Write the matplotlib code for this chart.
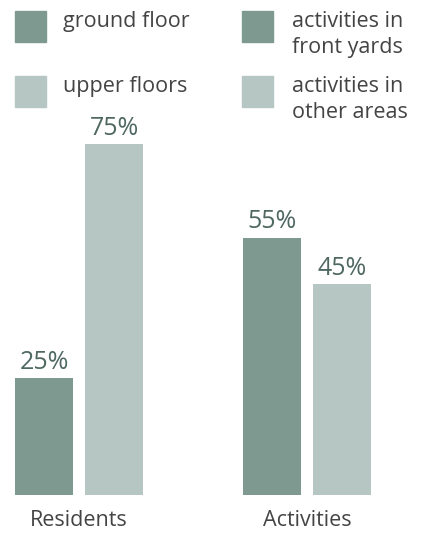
import numpy as np
import matplotlib.pyplot as plt
from matplotlib.patches import Rectangle

# data
groups = ['Residents', 'Activities']
first_share = [25, 55]    # ground floor / activities in front yards
second_share = [75, 45]   # upper floors / activities in other areas
legend_left = ['ground floor', 'upper floors']
legend_right = [['activities in', 'front yards'], ['activities in', 'other areas']]

dark = '#7d9990'
light = '#b6c6c3'
txt = '#444444'
pct = '#4f6862'
font = 'Open Sans'

W, H = 423, 533
fig = plt.figure(figsize=(W / 100, H / 100), dpi=100)
ax = fig.add_axes([0, 38 / H, 1, 495 / H])

x = np.arange(len(groups))
w = 58 / 228
off = 35 / 228
b1 = ax.bar(x - off, first_share, w, color=dark)
b2 = ax.bar(x + off, second_share, w, color=light)

for bars, vals in [(b1, first_share), (b2, second_share)]:
    for r, v in zip(bars, vals):
        ax.text(r.get_x() + r.get_width() / 2, v + 2.0, f'{v}%',
                ha='center', va='baseline', fontsize=18, color=pct, family=font)

ax.set_xlim(-79 / 228, 1 + 116 / 228)
ax.set_ylim(0, 495 / 4.68)
ax.set_xticks(x, groups, fontsize=15.5, color=txt, family=font)
ax.tick_params(axis='x', length=0, pad=11)
ax.set_yticks([])
for s in ax.spines.values():
    s.set_visible(False)

# legend drawn by hand so the squares line up with the first text line
def px(xp, yp):
    return xp / W, 1 - yp / H

for i, (col, lab) in enumerate(zip([dark, light], legend_left)):
    top = 11 + 65 * i
    fig.add_artist(Rectangle(px(15, top + 31), 31 / W, 31 / H, color=col,
                             transform=fig.transFigure))
    fig.text(*px(63, top + 16), lab, fontsize=15.5, color=txt, family=font, va='baseline')

for i, (col, lines) in enumerate(zip([dark, light], legend_right)):
    top = 11 + 65 * i
    fig.add_artist(Rectangle(px(242, top + 31), 31 / W, 31 / H, color=col,
                             transform=fig.transFigure))
    for j, line in enumerate(lines):
        fig.text(*px(292, top + 16 + 26 * j), line, fontsize=15.5, color=txt,
                 family=font, va='baseline')

fig.savefig('out.png', dpi=100)
